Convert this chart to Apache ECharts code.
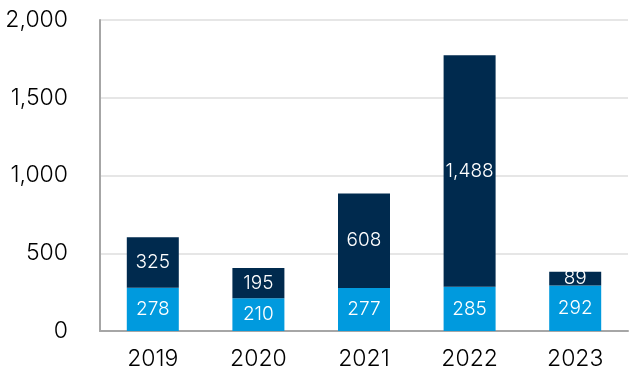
<!DOCTYPE html>
<html><head><meta charset="utf-8">
<script src="https://cdn.jsdelivr.net/npm/echarts@6/dist/echarts.min.js"></script>
<style>html,body{margin:0;padding:0;background:#fff}#c{width:638px;height:384px}</style>
</head><body><div id="c"></div>
<script>
var categories = ['2019','2020','2021','2022','2023'];
var lowerValues = [278, 210, 277, 285, 292];
var upperValues = [325, 195, 608, 1488, 89];
var yTicks = [0, 500, 1000, 1500, 2000];
var fmt = function(v){ return Number(v).toLocaleString('en-US'); };
var chart = echarts.init(document.getElementById('c'));
var font = 'Inter, Lato, "Noto Sans", sans-serif';
chart.setOption({
  animation: false,
  grid: {left: 100, right: 10, top: 20, bottom: 53, containLabel: false},
  xAxis: {
    type: 'category', data: categories,
    axisLine: {lineStyle: {color: '#a6a6a6', width: 2}},
    axisTick: {show: false},
    axisLabel: {color: '#000', fontSize: 23, fontWeight: 300, fontFamily: font, margin: 17}
  },
  yAxis: {
    type: 'value', min: yTicks[0], max: yTicks[yTicks.length-1], interval: 500,
    axisLine: {show: true, lineStyle: {color: '#a6a6a6', width: 2}},
    axisTick: {show: false},
    splitLine: {lineStyle: {color: '#e6e6e6', width: 2}},
    axisLabel: {color: '#000', fontSize: 23, fontWeight: 300, fontFamily: font, margin: 32, formatter: fmt}
  },
  series: [
    {type: 'bar', stack: 's', data: lowerValues, barWidth: 52,
     itemStyle: {color: '#009ADE'},
     label: {show: true, position: 'inside', color: '#fff', fontSize: 19, fontWeight: 300, fontFamily: font, formatter: function(p){return fmt(p.value);}}},
    {type: 'bar', stack: 's', data: upperValues, barWidth: 52,
     itemStyle: {color: '#002A4E'},
     label: {show: true, position: 'inside', color: '#fff', fontSize: 19, fontWeight: 300, fontFamily: font, formatter: function(p){return fmt(p.value);}}}
  ]
});
</script></body></html>
